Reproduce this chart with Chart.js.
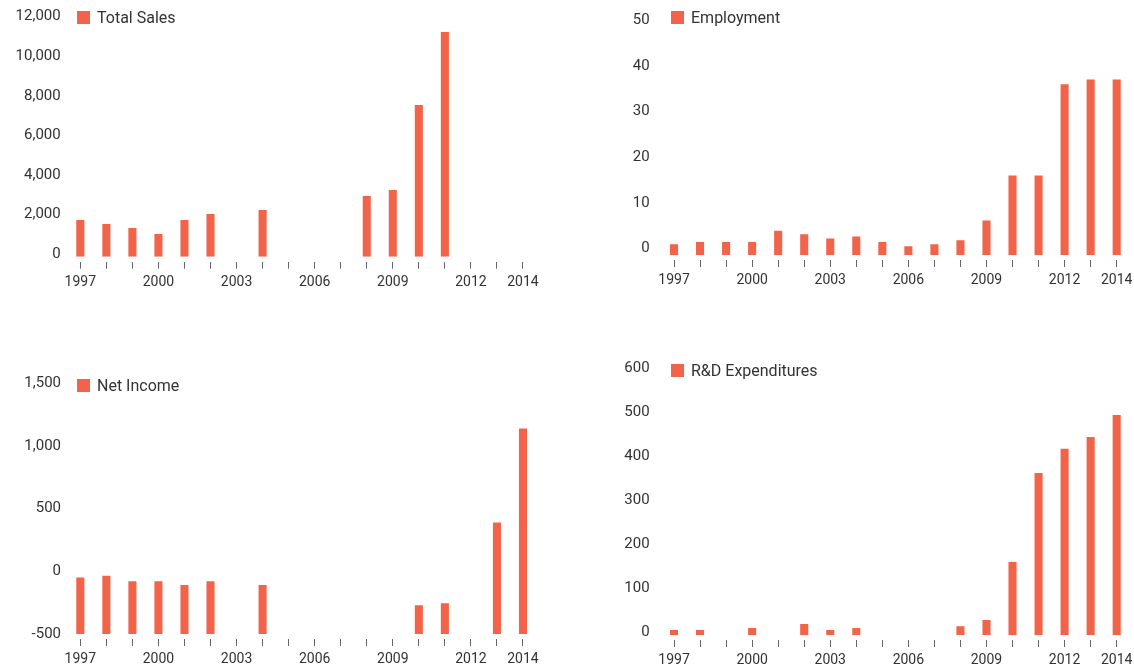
<!DOCTYPE html>
<html>
<head>
<meta charset="utf-8">
<script src="https://cdn.jsdelivr.net/npm/chart.js@4"></script>
<style>
  html, body { margin: 0; padding: 0; background: #fff; width: 1134px; height: 670px; overflow: hidden; }
  canvas { position: absolute; }
  .legend { position: absolute; display: flex; align-items: center; height: 13px; white-space: nowrap;
            font: 16px Roboto, sans-serif; color: #333; }
  .legend i { display: inline-block; width: 13px; height: 13px; background: #f26349; margin-right: 7px; }
</style>
</head>
<body>
<canvas id="sales" width="567" height="330" style="left:0;top:0"></canvas>
<canvas id="employment" width="600" height="330" style="left:567px;top:0"></canvas>
<canvas id="income" width="567" height="370" style="left:0;top:320px"></canvas>
<canvas id="rd" width="600" height="370" style="left:567px;top:320px"></canvas>

<script>
    var years = ['1997', '1998', '1999', '2000', '2001', '2002', '2003', '2004', '2005',
                 '2006', '2007', '2008', '2009', '2010', '2011', '2012', '2013', '2014'];

    var totalSales = [1720, 1520, 1310, 1010, 1720, 2020, null, 2220, null,
                      null, null, 2930, 3240, 7530, 11230, null, null, null];
    var employment = [0.9, 1.4, 1.4, 1.4, 3.9, 3.1, 2.2, 2.6, 1.4,
                      0.5, 0.9, 1.8, 6.1, 16, 16, 36, 37, 37];
    var netIncome = [-50, -35, -80, -80, -110, -80, null, -110, null,
                     null, null, null, null, -270, -255, null, 390, 1140];
    var rdExpenditures = [5, 5, null, 10, null, 19, 5, 10, null,
                          null, null, 14, 28, 160, 362, 417, 444, 494];

    var salesTicks = [0, 2000, 4000, 6000, 8000, 10000, 12000];
    var employmentTicks = [0, 10, 20, 30, 40, 50];
    var netIncomeTicks = [-500, 0, 500, 1000, 1500];
    var rdTicks = [0, 100, 200, 300, 400, 500, 600];

    var BAR = '#f26349';
    var XAXIS_H = 34;

    Chart.defaults.font.family = 'Roboto, sans-serif';
    Chart.defaults.color = '#333';

    // one panel per chart; area is the plot box inside its canvas
    var panels = [
        {id: 'sales', label: 'Total Sales', values: totalSales, ticks: salesTicks, floor: -137,
         area: {left: 67.3, top: 16.7, right: 536, bottom: 256.7}, yPad: 6.6, legend: [77, 11]},
        {id: 'employment', label: 'Employment', values: employment, ticks: employmentTicks, floor: -1.44,
         area: {left: 94, top: 16, right: 562.7, bottom: 255}, yPad: 11.3, legend: [671, 11]},
        {id: 'income', label: 'Net Income', values: netIncome, ticks: netIncomeTicks, floor: -500,
         area: {left: 67.3, top: 63.3, right: 536, bottom: 314}, yPad: 6.3, legend: [77, 378.5]},
        {id: 'rd', label: 'R&D Expenditures', values: rdExpenditures, ticks: rdTicks, floor: -6.1,
         area: {left: 94, top: 48.3, right: 562.7, bottom: 315}, yPad: 11.4, legend: [671, 363.5]}
    ];

    function drawPanel(p) {
        var cv = document.getElementById(p.id);
        var a = p.area;
        var last = years.length - 1;

        new Chart(cv, {
            type: 'bar',
            data: {
                labels: years,
                datasets: [{
                    label: p.label,
                    data: p.values,
                    backgroundColor: BAR,
                    borderWidth: 0,
                    base: p.floor,
                    barPercentage: 0.31,
                    categoryPercentage: 1
                }]
            },
            options: {
                responsive: false,
                animation: false,
                layout: {
                    padding: {left: 0, top: a.top, right: cv.width - a.right, bottom: cv.height - a.bottom - XAXIS_H}
                },
                plugins: {
                    legend: {display: false},
                    tooltip: {enabled: false}
                },
                scales: {
                    x: {
                        offset: true,
                        border: {display: false},
                        grid: {
                            display: true,
                            drawOnChartArea: false,
                            drawTicks: true,
                            offset: false,
                            tickLength: 12,
                            tickWidth: 1,
                            tickColor: '#666',
                            tickBorderDash: [0, 5, 7, 50]   // gap under the bars, then the short mark
                        },
                        ticks: {
                            autoSkip: false,
                            maxRotation: 0,
                            padding: 5,
                            font: {size: 14},
                            callback: function(v, i) {
                                return (i % 3 === 0 || i === last) ? years[i] : '';
                            }
                        },
                        afterFit: function(s) { s.height = XAXIS_H; }
                    },
                    y: {
                        min: p.floor,
                        max: p.ticks[p.ticks.length - 1],
                        border: {display: false},
                        grid: {display: false, drawTicks: false},
                        ticks: {
                            padding: p.yPad,
                            font: {size: 15},
                            callback: function(v) { return v.toLocaleString('en-US'); }
                        },
                        afterBuildTicks: function(s) {
                            s.ticks = p.ticks.map(function(v) { return {value: v}; });
                        },
                        afterFit: function(s) { s.width = a.left; }
                    }
                }
            }
        });

        var lg = document.createElement('div');
        lg.className = 'legend';
        lg.style.left = p.legend[0] + 'px';
        lg.style.top = p.legend[1] + 'px';
        lg.innerHTML = '<i></i>';
        lg.appendChild(document.createTextNode(p.label));
        document.body.appendChild(lg);
    }

    panels.forEach(drawPanel);
</script>
</body>
</html>
